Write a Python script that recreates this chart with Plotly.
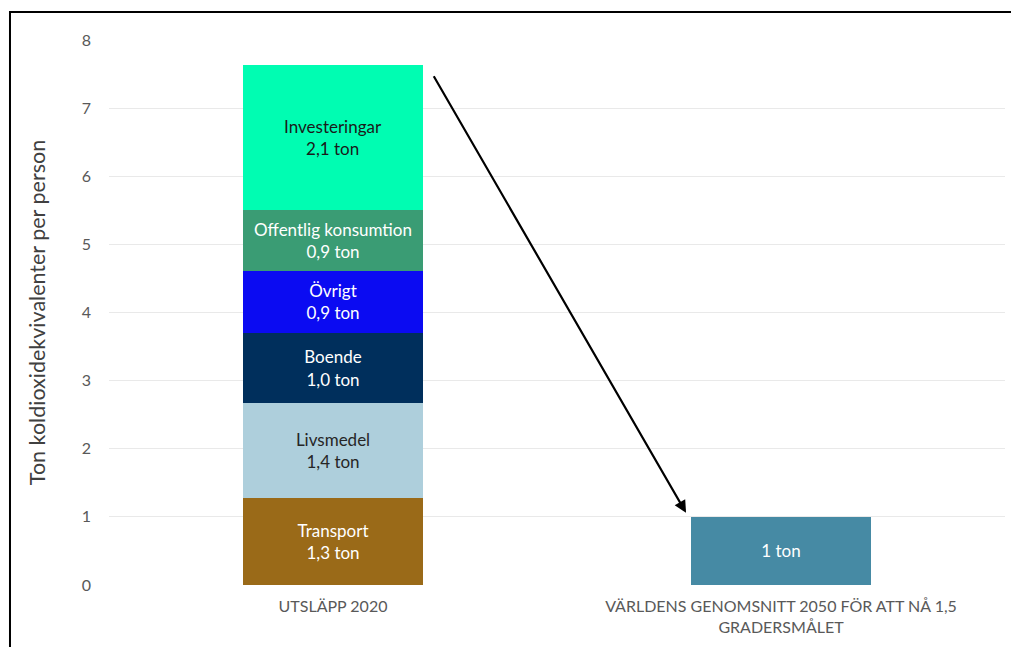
import plotly.graph_objects as go

categories = ["UTSLÄPP 2020", "VÄRLDENS GENOMSNITT 2050 FÖR ATT NÅ 1,5<br>GRADERSMÅLET"]
segments = ["Transport", "Livsmedel", "Boende", "Övrigt", "Offentlig konsumtion", "Investeringar"]
segment_values = [1.27, 1.40, 1.03, 0.91, 0.90, 2.13]
segment_labels = ["1,3 ton", "1,4 ton", "1,0 ton", "0,9 ton", "0,9 ton", "2,1 ton"]
segment_colors = ["#9A6A18", "#AECFDC", "#002F5C", "#0B0BF2", "#3A9C74", "#00FDB2"]
segment_text_colors = ["#FFFFFF", "#262626", "#FFFFFF", "#FFFFFF", "#FFFFFF", "#1A1A1A"]
target_value = 1.0
target_label = "1 ton"
target_color = "#468AA4"

FONT = "Lato, 'Open Sans', sans-serif"

fig = go.Figure()
for name, val, lab, col, tcol in zip(segments, segment_values, segment_labels, segment_colors, segment_text_colors):
    fig.add_trace(go.Bar(
        x=[categories[0]], y=[val], name=name,
        marker=dict(color=col, line=dict(width=0)),
        text=[f"{name}<br>{lab}"], textposition="inside", insidetextanchor="middle",
        textangle=0, constraintext="none",
        textfont=dict(color=tcol, size=17, family=FONT),
        width=0.402, hoverinfo="skip",
    ))
fig.add_trace(go.Bar(
    x=[categories[1]], y=[target_value], name="Mål",
    marker=dict(color=target_color, line=dict(width=0)),
    text=[target_label], textposition="inside", insidetextanchor="middle",
    textangle=0, constraintext="none",
    textfont=dict(color="#FFFFFF", size=17, family=FONT),
    width=0.402, hoverinfo="skip",
))

fig.update_layout(
    barmode="stack",
    width=1011, height=647,
    margin=dict(l=109, r=6, t=40, b=62),
    paper_bgcolor="white", plot_bgcolor="white",
    showlegend=False,
    font=dict(family=FONT, color="#595959", size=16),
    xaxis=dict(type="category", range=[-0.5, 1.5], showgrid=False, showline=False,
               ticks="", ticklabelstandoff=10,
               tickfont=dict(size=16, color="#595959", family=FONT)),
    yaxis=dict(range=[0, 8], dtick=1, showgrid=True, gridcolor="#E9E9E9", gridwidth=1,
               zeroline=False, showline=False, ticks="", ticklabelstandoff=17,
               tickfont=dict(size=16, color="#595959", family=FONT),
               title=dict(text="Ton koldioxidekvivalenter per person",
                          font=dict(size=21.5, color="#404040", family=FONT), standoff=30)),
    shapes=[dict(type="rect", xref="paper", yref="paper",
                 x0=-0.1105, x1=1.02, y0=-0.15, y1=1.0514,
                 line=dict(color="#000000", width=2), fillcolor="rgba(0,0,0,0)", layer="above")],
    annotations=[dict(
        xref="x", yref="y", axref="x", ayref="y",
        x=0.788, y=1.06, ax=0.223, ay=7.49,
        text="", showarrow=True, arrowhead=2, arrowsize=1.1, arrowwidth=2.2, arrowcolor="#000000",
    )],
)

fig.write_html("out.html")
